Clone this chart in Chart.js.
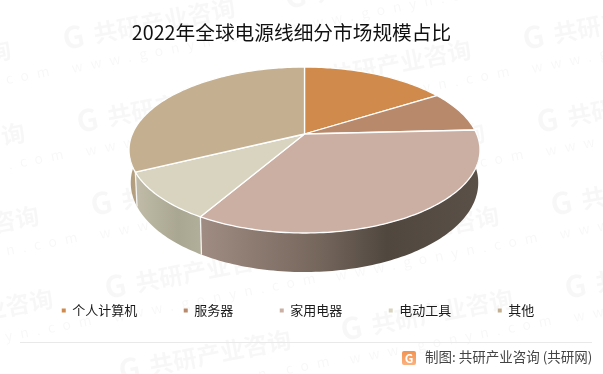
<!DOCTYPE html>
<html>
<head>
<meta charset="utf-8">
<title>2022年全球电源线细分市场规模占比</title>
<script src="https://cdn.jsdelivr.net/npm/chart.js@4/dist/chart.umd.js"></script>
<style>
  html, body { margin: 0; padding: 0; background: #fff; }
  canvas { display: block; }
</style>
</head>
<body>
<canvas id="chart" width="603" height="374"></canvas>
<script>
// Data
const categories = ['个人计算机', '服务器', '家用电器', '电动工具', '其他'];
const shares = [16.1, 8.1, 34.2, 9.4, 32.2];
const sliceColors = ['#D08B4C', '#B8896A', '#CCAFA3', '#D8D4C0', '#C4AF91'];
const chartTitle = '2022年全球电源线细分市场规模占比';
const sourceNote = '制图: 共研产业咨询 (共研网)';

const FONT = '"Noto Sans CJK SC", "Noto Sans", sans-serif';

// Side wall colours, left to right across the visible rim
const wallStops = [
    null,
    null,
    [[203, '#9f8b82'], [320, '#75665c'], [387, '#50473f'], [478, '#5a5048']],
    [[137, '#bfbba8'], [178, '#a9a691'], [201, '#b1ae99']],
    [[129, '#b09b7c'], [140, '#b8a485']]
];

// Tilted disc: apex of the pie, radii and perspective strength
const disc = { cx: 304.5, cy: 134, a: 172.2, b: 79.9, k: 0.193, depth: 31.5, shrink: 0.99 };

function project(phi) {
    const x = Math.sin(phi), y = -Math.cos(phi);
    const s = 1 / (1 - disc.k * y);
    return { x: disc.cx + disc.a * x * s, y: disc.cy + disc.b * y * s, s };
}

function projectBottom(phi) {
    const p = project(phi);
    return { x: disc.cx + (p.x - disc.cx) * disc.shrink, y: p.y + disc.depth * p.s };
}

function sampleAngles(from, to) {
    const steps = Math.max(2, Math.ceil((to - from) / 0.02));
    const out = [];
    for (let i = 0; i <= steps; i++) out.push(from + (to - from) * i / steps);
    return out;
}

const tiltedPie = {
    id: 'tiltedPie',
    beforeDatasetsDraw(chart) {
        const ctx = chart.ctx;
        const arcs = chart.getDatasetMeta(0).data;
        const ranges = arcs.map(arc => [arc.startAngle + Math.PI / 2, arc.endAngle + Math.PI / 2]);

        // side walls first, back to front
        ctx.save();
        [4, 3, 2].forEach(i => {
            const from = Math.max(ranges[i][0], Math.PI / 2);
            const to = Math.min(ranges[i][1], Math.PI * 1.5);
            if (to <= from) return;
            const angles = sampleAngles(from, to);
            const stops = wallStops[i];
            const x0 = stops[0][0], x1 = stops[stops.length - 1][0];
            const grad = ctx.createLinearGradient(x0, 0, x1, 0);
            stops.forEach(st => grad.addColorStop((st[0] - x0) / (x1 - x0), st[1]));
            ctx.beginPath();
            angles.forEach((phi, n) => {
                const p = project(phi);
                n ? ctx.lineTo(p.x, p.y) : ctx.moveTo(p.x, p.y);
            });
            angles.slice().reverse().forEach(phi => {
                const p = projectBottom(phi);
                ctx.lineTo(p.x, p.y);
            });
            ctx.closePath();
            ctx.fillStyle = grad;
            ctx.fill();
        });

        // white seams between wall pieces
        ctx.strokeStyle = '#f4f4f2';
        ctx.lineWidth = 1.3;
        [ranges[3][0], ranges[4][0]].forEach(phi => {
            const top = project(phi), bottom = projectBottom(phi);
            ctx.beginPath();
            ctx.moveTo(top.x, top.y);
            ctx.lineTo(bottom.x, bottom.y);
            ctx.stroke();
        });

        // top faces
        ctx.lineJoin = 'round';
        ctx.strokeStyle = '#fff';
        ctx.lineWidth = 1.3;
        arcs.forEach((arc, i) => {
            ctx.beginPath();
            ctx.moveTo(disc.cx, disc.cy);
            sampleAngles(ranges[i][0], ranges[i][1]).forEach(phi => {
                const p = project(phi);
                ctx.lineTo(p.x, p.y);
            });
            ctx.closePath();
            ctx.fillStyle = sliceColors[i];
            ctx.fill();
            ctx.stroke();
        });
        ctx.restore();
        return false; // the flat default arcs are replaced by the tilted ones
    }
};

// Faint repeated company mark behind the chart
const watermarkAnchors = [
    [65, 50], [79, 133], [93, 216], [107, 299], [121, 382],
    [287, 9], [301, 92], [315, 175], [329, 258], [343, 341],
    [-159, 92], [-145, 175], [-131, 258], [-117, 341],
    [525, 50], [539, 133], [553, 216], [567, 299]
];

const pageDecor = {
    id: 'pageDecor',
    beforeDraw(chart) {
        const ctx = chart.ctx;
        ctx.save();
        ctx.fillStyle = '#fff';
        ctx.fillRect(0, 0, chart.width, chart.height);
        ctx.fillStyle = 'rgba(0,0,0,0.03)';
        ctx.textBaseline = 'alphabetic';
        ctx.textAlign = 'left';
        watermarkAnchors.forEach(([x, y]) => {
            ctx.save();
            ctx.translate(x, y);
            ctx.rotate(-11 * Math.PI / 180);
            ctx.font = `bold 30px ${FONT}`;
            ctx.fillText('G', 0, 0);
            ctx.font = `bold 24px ${FONT}`;
            ctx.fillText('共研产业咨询', 31, -1);
            ctx.font = `14px ${FONT}`;
            ctx.letterSpacing = '8px';
            ctx.fillText('www.gonyn.com', 3, 24);
            ctx.restore();
        });
        ctx.restore();
    },
    afterDraw(chart) {
        const ctx = chart.ctx;
        ctx.save();
        ctx.textBaseline = 'middle';
        ctx.textAlign = 'center';
        ctx.fillStyle = '#111';
        ctx.font = `19.7px ${FONT}`;
        ctx.fillText(chartTitle, 291.5, 33);

        // footer rule, small logo and source
        ctx.strokeStyle = '#e9e9e9';
        ctx.lineWidth = 1;
        ctx.beginPath();
        ctx.moveTo(20, 342.5);
        ctx.lineTo(592, 342.5);
        ctx.stroke();

        const grad = ctx.createLinearGradient(0, 351, 0, 365);
        grad.addColorStop(0, '#f2924e');
        grad.addColorStop(1, '#fbb27e');
        ctx.fillStyle = grad;
        ctx.beginPath();
        ctx.roundRect(402, 351, 14, 14, 2);
        ctx.fill();
        ctx.fillStyle = '#fff';
        ctx.font = `bold 12px ${FONT}`;
        ctx.fillText('G', 409, 358);

        ctx.textAlign = 'left';
        ctx.fillStyle = '#444';
        ctx.font = `13.5px ${FONT}`;
        ctx.fillText(sourceNote, 425, 357);
        ctx.restore();
    }
};

new Chart(document.getElementById('chart'), {
    type: 'pie',
    data: {
        labels: categories,
        datasets: [{
            data: shares,
            backgroundColor: sliceColors,
            borderWidth: 0
        }]
    },
    options: {
        responsive: false,
        animation: false,
        layout: { padding: { bottom: 47, right: 7 } },
        plugins: {
            title: { display: false },
            tooltip: { enabled: false },
            legend: {
                display: true,
                position: 'bottom',
                labels: {
                    boxWidth: 4,
                    boxHeight: 4,
                    padding: 46.5,
                    color: '#1a1a1a',
                    font: { size: 13, family: FONT }
                }
            }
        }
    },
    plugins: [pageDecor, tiltedPie]
});
</script>
</body>
</html>
